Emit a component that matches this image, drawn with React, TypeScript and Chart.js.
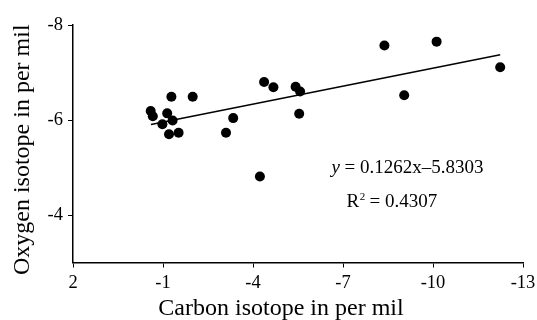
import React, { useEffect, useRef } from 'react';
import { Chart, registerables } from 'chart.js';

Chart.register(...registerables);

// Data
const carbon = [-0.59, -0.66, -0.98, -1.14, -1.32, -1.2, -1.52, -1.28, -1.99, -3.1, -3.34, -4.37, -4.68, -5.42, -5.57, -5.54, -4.23, -8.38, -10.12, -12.24, -9.04];
const oxygen = [-6.19, -6.08, -5.91, -6.14, -5.99, -5.7, -5.73, -6.49, -6.49, -5.73, -6.04, -6.8, -6.69, -6.7, -6.6, -6.13, -4.81, -7.57, -7.65, -7.11, -6.52];

const xTicks = [2, -1, -4, -7, -10, -13];
const yTicks = [-8, -6, -4];

// Trend line (from the equation printed on the chart)
const trendSlope = 0.1262;
const trendIntercept = -5.8303;
const trendX = [-0.6, -12.24];

const xTitle = 'Carbon isotope in per mil';
const yTitle = 'Oxygen isotope in per mil';
const eqLabelRest = ' = 0.1262x\u20135.8303';
const r2Label = ' = 0.4307';
const eqAnchor = [-9.15, -4.89];
const r2Anchor = [-8.63, -4.175];

const FAMILY = '"Liberation Serif", "Times New Roman", serif';

const annotPlugin = {
  id: 'annot',
  afterDraw(chart: any) {
    const { ctx, scales, chartArea } = chart;
    const x = scales.x;
    const y = scales.y;
    ctx.save();
    ctx.fillStyle = '#000';
    ctx.textBaseline = 'alphabetic';
    ctx.textAlign = 'left';
    const fs = 19;
    // equation
    let px = x.getPixelForValue(eqAnchor[0]);
    let py = y.getPixelForValue(eqAnchor[1]);
    ctx.font = `italic ${fs}px ${FAMILY}`;
    const w1 = ctx.measureText('y').width;
    ctx.font = `${fs}px ${FAMILY}`;
    const w2 = ctx.measureText(eqLabelRest).width;
    let sx = px - (w1 + w2) / 2;
    ctx.font = `italic ${fs}px ${FAMILY}`;
    ctx.fillText('y', sx, py);
    ctx.font = `${fs}px ${FAMILY}`;
    ctx.fillText(eqLabelRest, sx + w1, py);
    // R^2
    px = x.getPixelForValue(r2Anchor[0]);
    py = y.getPixelForValue(r2Anchor[1]);
    ctx.font = `${fs}px ${FAMILY}`;
    const wR = ctx.measureText('R').width;
    const wRest = ctx.measureText(r2Label).width;
    ctx.font = `11px ${FAMILY}`;
    const wSup = ctx.measureText('2').width;
    sx = px - (wR + wSup + wRest) / 2;
    ctx.font = `${fs}px ${FAMILY}`;
    ctx.fillText('R', sx, py);
    ctx.font = `11px ${FAMILY}`;
    ctx.fillText('2', sx + wR + 0.5, py - 7);
    ctx.font = `${fs}px ${FAMILY}`;
    ctx.fillText(r2Label, sx + wR + wSup, py);

    // axis titles
    ctx.font = `24px ${FAMILY}`;
    ctx.textAlign = 'center';
    ctx.fillText(xTitle, (chartArea.left + chartArea.right) / 2 - 17, chart.height - 5);
    ctx.translate(29, (chartArea.top + chartArea.bottom) / 2 + 6);
    ctx.rotate(-Math.PI / 2);
    ctx.fillText(yTitle, 0, 0);
    ctx.restore();
  },
};

export default function App() {
  const ref = useRef<HTMLCanvasElement | null>(null);
  useEffect(() => {
    document.body.style.margin = '0';
    const canvas = ref.current;
    if (!canvas) return;
    const points = carbon.map((c, i) => ({ x: c, y: oxygen[i] }));
    const trend = trendX.map((tx) => ({ x: tx, y: trendSlope * tx + trendIntercept }));
    const chart = new Chart(canvas, {
      type: 'scatter',
      data: {
        datasets: [
          {
            data: trend,
            showLine: true,
            borderColor: '#000',
            borderWidth: 1.5,
            pointRadius: 0,
            fill: false,
          } as any,
          {
            data: points,
            backgroundColor: '#000',
            borderColor: '#000',
            borderWidth: 0,
            pointRadius: 5,
          },
        ],
      },
      options: {
        animation: false,
        responsive: false,
        events: [],
        layout: { padding: { top: 25, right: 14, left: 0, bottom: 0 } },
        plugins: { legend: { display: false }, tooltip: { enabled: false } },
        scales: {
          x: {
            type: 'linear',
            min: -13,
            max: 2,
            reverse: true,
            afterBuildTicks: (s: any) => {
              s.ticks = xTicks.map((v) => ({ value: v }));
            },
            afterFit: (s: any) => {
              s.height = 57.5;
              s.paddingLeft = 0;
              s.paddingRight = 0;
            },
            grid: { drawOnChartArea: false, drawTicks: true, tickLength: 5, color: '#000', lineWidth: 1 },
            border: { display: true, color: '#000', width: 1.5 },
            ticks: {
              color: '#000',
              font: { family: FAMILY, size: 18.5 },
              padding: 5,
              maxRotation: 0,
              autoSkip: false,
              callback: (v: any) => String(v),
            },
            title: { display: false, text: xTitle },
          },
          y: {
            type: 'linear',
            min: -8,
            max: -3,
            reverse: true,
            afterBuildTicks: (s: any) => {
              s.ticks = yTicks.map((v) => ({ value: v }));
            },
            afterFit: (s: any) => {
              s.width = 73;
              s.paddingTop = 0;
              s.paddingBottom = 0;
            },
            grid: { drawOnChartArea: false, drawTicks: true, tickLength: 5, color: '#000', lineWidth: 1 },
            border: { display: true, color: '#000', width: 1.5 },
            ticks: {
              color: '#000',
              font: { family: FAMILY, size: 18.5 },
              padding: 5,
              callback: (v: any) => String(v),
            },
            title: { display: false, text: yTitle },
          },
        },
      } as any,
      plugins: [annotPlugin],
    });
    return () => chart.destroy();
  }, []);
  return (
    <div style={{ width: 537, height: 320, background: '#fff' }}>
      <canvas ref={ref} width={537} height={320} style={{ display: 'block' }} />
    </div>
  );
}
